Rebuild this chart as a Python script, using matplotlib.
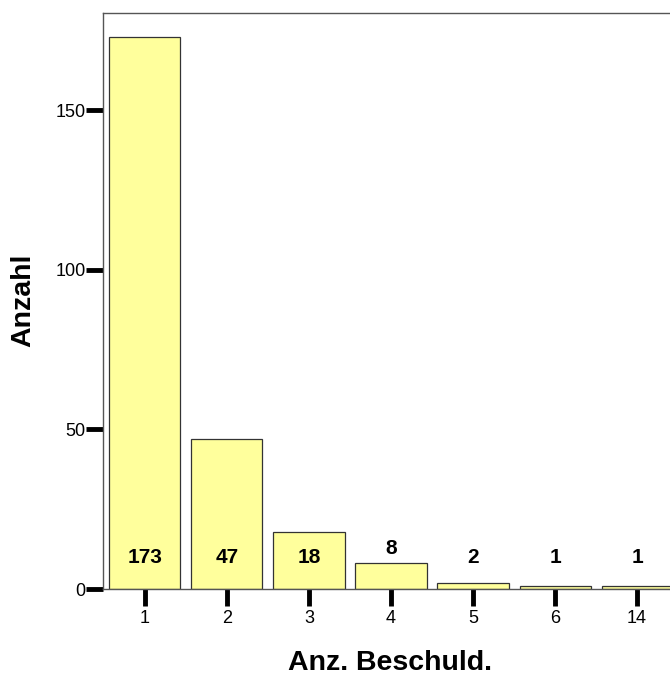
import matplotlib.pyplot as plt

# Kategorien und Häufigkeiten
kategorien = ["1", "2", "3", "4", "5", "6", "14"]
anzahl = [173, 47, 18, 8, 2, 1, 1]

plt.rcParams['font.family'] = ['Liberation Sans', 'DejaVu Sans']

fig = plt.figure(figsize=(6.7, 6.78), dpi=100)
ax = fig.add_axes([103 / 670, 89 / 678, 576 / 670, 576 / 678])

pos = list(range(len(kategorien)))
ax.bar(pos, anzahl, width=0.866, color='#FFFF9C', edgecolor='#333333', linewidth=0.9, zorder=2)

# Werte an die Balken schreiben
for x, v in zip(pos, anzahl):
    y = 10 if v >= 15 else max(v + 4.8, 10)
    ax.text(x, y, str(v), ha='center', va='center', fontsize=15, fontweight='bold')

ax.set_xlim(-0.512, 6.512)
ax.set_ylim(0, 180.4)
ax.set_xticks(pos)
ax.set_xticklabels(kategorien)
ax.set_yticks([0, 50, 100, 150])

ax.tick_params(axis='both', direction='out', length=12, width=3.5, color='black', labelsize=13)
ax.tick_params(axis='x', pad=3)
ax.tick_params(axis='y', pad=0.5)

for s in ['left', 'top', 'bottom', 'right']:
    ax.spines[s].set_color('#555555')
    ax.spines[s].set_linewidth(1.0)

# Achsentitel
fig.text(390 / 670, 1 - 663 / 678, "Anz. Beschuld.", ha='center', va='center',
         fontsize=20.5, fontweight='bold')
fig.text(23 / 670, 1 - 300 / 678, "Anzahl", ha='center', va='center', rotation=90,
         fontsize=20.5, fontweight='bold')

fig.savefig("out.png", dpi=100)
